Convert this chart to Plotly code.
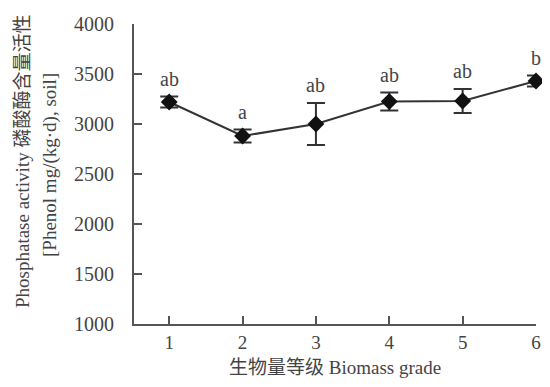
import plotly.graph_objects as go

grades = [1, 2, 3, 4, 5, 6]
activity = [3220, 2880, 3000, 3225, 3230, 3430]
err = [55, 65, 210, 90, 120, 55]
letters = ["ab", "a", "ab", "ab", "ab", "b"]
y_ticks = [1000, 1500, 2000, 2500, 3000, 3500, 4000]

txt = "#444444"
fnt = "Liberation Serif, Noto Sans CJK SC, serif"

# page body has an 8px margin; figure sized to fit inside the 550x387 window
OFF = 8
W, H = 534, 371
L, T = 134 - OFF, 24 - OFF
R = W - (536 - OFF)
B = H - (324 - OFF)
pw, ph = W - L - R, H - T - B


def px_x(px):
    return (px - OFF - L) / pw


def px_y(py):
    return (H - B - (py - OFF)) / ph


fig = go.Figure()
fig.add_trace(go.Scatter(
    x=grades, y=activity, mode="lines+markers",
    line=dict(color="#333333", width=2),
    marker=dict(symbol="diamond", size=13, color="#111111"),
    error_y=dict(type="data", array=err, visible=True, color="#333333", thickness=2, width=9),
    showlegend=False, cliponaxis=False,
))
for g, v, e, l in zip(grades, activity, err, letters):
    fig.add_annotation(x=g, y=v + e, text=l, showarrow=False, yanchor="bottom", yshift=5,
                       font=dict(family=fnt, size=20, color=txt))

fig.add_annotation(xref="paper", yref="paper", x=px_x(22), y=px_y(162),
                   text="Phosphatase activity 磷酸酶含量活性", textangle=-90, showarrow=False,
                   xanchor="center", yanchor="middle", font=dict(family=fnt, size=19, color=txt))
fig.add_annotation(xref="paper", yref="paper", x=px_x(50), y=px_y(165),
                   text="[Phenol mg/(kg·d), soil]", textangle=-90, showarrow=False,
                   xanchor="center", yanchor="middle", font=dict(family=fnt, size=19, color=txt))
fig.add_annotation(xref="paper", yref="paper", x=px_x(335), y=px_y(379),
                   text="生物量等级 Biomass grade", showarrow=False,
                   xanchor="center", yanchor="bottom", borderpad=0,
                   font=dict(family=fnt, size=19, color=txt))

fig.update_layout(
    width=W, height=H,
    margin=dict(l=L, r=R, t=T, b=B, autoexpand=False),
    paper_bgcolor="white", plot_bgcolor="white",
    font=dict(family=fnt, size=20, color=txt),
    xaxis=dict(range=[0.52, 6], tickvals=grades, ticks="inside", ticklen=8, tickwidth=2,
               tickcolor="#555555", showline=True, linecolor="#555555", linewidth=2,
               showgrid=False, zeroline=False, automargin=False, ticklabelstandoff=0,
               tickfont=dict(size=19)),
    yaxis=dict(range=[1000, 4000], tickvals=y_ticks, ticks="inside", ticklen=8, tickwidth=2,
               tickcolor="#555555", showline=True, linecolor="#555555", linewidth=2,
               showgrid=False, zeroline=False, automargin=False, ticklabelstandoff=14),
)
fig.write_html("out.html")
